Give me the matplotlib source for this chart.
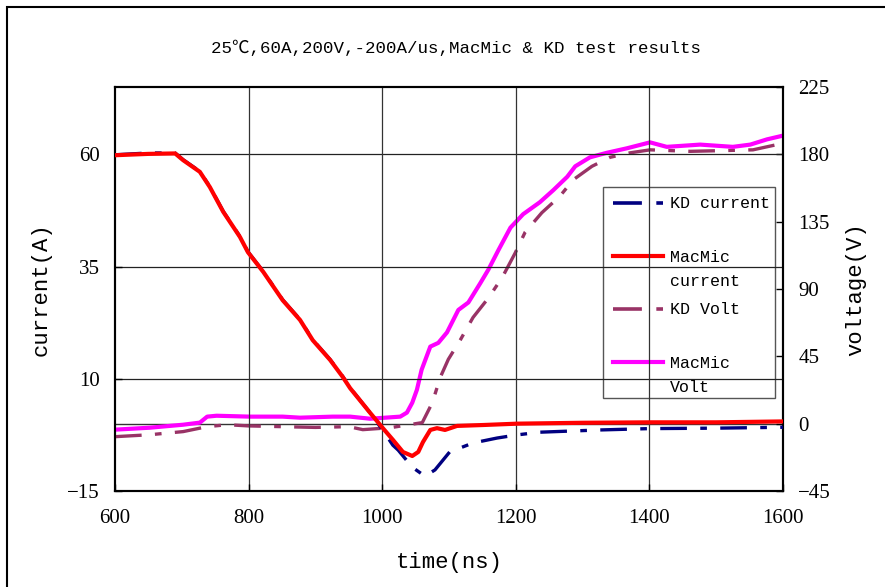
import numpy as np
import matplotlib.pyplot as plt
from matplotlib.lines import Line2D
from matplotlib.patches import Rectangle

# data
t_mm_i = [600, 650, 690, 702, 727, 742, 762, 787, 799, 822, 851, 877, 896, 922, 941, 952,
          982, 1001, 1016, 1031, 1045, 1054, 1061, 1072, 1082, 1094, 1112, 1151, 1202,
          1300, 1400, 1500, 1600]
i_mm = [59.8, 60.1, 60.2, 58.7, 56.1, 52.7, 47.2, 41.6, 38.2, 33.8, 27.5, 23.1, 18.6, 14.2,
        10.4, 7.9, 2.4, -1.0, -3.6, -6.3, -7.2, -6.3, -4.1, -1.4, -1.0, -1.4, -0.5, -0.3,
        0.0, 0.2, 0.3, 0.3, 0.5]

t_kd_i = [600, 650, 690, 702, 727, 742, 762, 787, 799, 822, 851, 877, 896, 922, 941, 952,
          982, 1001, 1016, 1024, 1045, 1064, 1079, 1101, 1136, 1172, 1202, 1236, 1326,
          1400, 1500, 1600]
i_kd = [59.9, 60.3, 60.3, 58.8, 56.2, 52.8, 47.3, 41.7, 38.3, 33.9, 27.6, 23.2, 18.7, 14.3,
        10.5, 8.0, 2.4, -1.5, -4.8, -5.9, -9.7, -11.7, -10.3, -6.3, -4.3, -3.2, -2.5, -1.9,
        -1.4, -1.1, -1.0, -0.8]

t_mm_v = [600, 652, 702, 727, 738, 752, 802, 851, 877, 926, 952, 982, 1027, 1037, 1045,
          1052, 1059, 1072, 1084, 1097, 1114, 1129, 1147, 1159, 1174, 1192, 1211, 1236,
          1256, 1277, 1289, 1311, 1336, 1366, 1401, 1426, 1476, 1525, 1551, 1576, 1600]
v_mm = [-4, -2.7, -0.7, 0.7, 4.7, 5.3, 4.7, 4.7, 4.0, 4.7, 4.7, 3.3, 4.7, 7.4, 14, 22.7,
        36, 51.5, 54, 61, 76, 81, 94, 103, 116, 131, 140, 148, 156, 165, 172, 178, 181,
        184, 188, 185, 186.5, 185, 186.5, 190, 192.5]

t_kd_v = [600, 652, 702, 738, 768, 800, 850, 900, 950, 971, 1012, 1060, 1075, 1087, 1099,
          1117, 1136, 1159, 1180, 1199, 1214, 1239, 1266, 1286, 1314, 1341, 1371, 1401,
          1461, 1510, 1555, 1591, 1600]
v_kd = [-8.7, -7.4, -5.3, -2, -0.7, -1.5, -2, -2.5, -2, -4, -2.7, 0.7, 14, 31, 43, 56, 71,
        84, 98, 114, 128, 141, 152, 163, 172, 178, 181, 183, 182, 182.5, 183, 186.5, 188]

x_ticks = [600, 800, 1000, 1200, 1400, 1600]
i_ticks = [-15, 10, 35, 60]
v_ticks = [-45, 0, 45, 90, 135, 180, 225]

labels = ['KD current', 'MacMic\ncurrent', 'KD Volt', 'MacMic\nVolt']
colors = ['#000080', '#ff0000', '#993366', '#ff00ff']

mono = ['Liberation Mono', 'Noto Sans CJK SC']
serif = 'Liberation Serif'
dash = (0, (8, 4, 2, 4))

fig = plt.figure(figsize=(8.85, 5.87), dpi=100)
ax = fig.add_axes([115 / 885, 96 / 587, 668 / 885, 404 / 587])
ax2 = ax.twinx()

ax.set_xlim(600, 1600)
ax.set_ylim(-15, 75)
ax2.set_ylim(-45, 225)

# grid
for y in [10, 35, 60]:
    ax.axhline(y, color='#222222', lw=0.9, zorder=1)
for x in [800, 1000, 1200, 1400]:
    ax.axvline(x, color='#333333', lw=0.9, zorder=1)
ax2.axhline(0, color='#333333', lw=1.0, zorder=1)

ax.plot(t_kd_i, i_kd, color=colors[0], lw=2.4, linestyle=dash, zorder=3)
ax.plot(t_mm_i, i_mm, color=colors[1], lw=3, zorder=4)
ax2.plot(t_kd_v, v_kd, color=colors[2], lw=2.4, linestyle=dash, zorder=3)
ax2.plot(t_mm_v, v_mm, color=colors[3], lw=3, zorder=4)
ax.set_zorder(ax2.get_zorder() + 1)
ax.patch.set_visible(False)

ax.set_xticks(x_ticks)
ax.set_yticks(i_ticks)
ax2.set_yticks(v_ticks)
for a in (ax, ax2):
    a.tick_params(direction='in', length=5, width=1, pad=11, labelsize=15)
    for lab in a.get_xticklabels() + a.get_yticklabels():
        lab.set_fontfamily(serif)
    for s in a.spines.values():
        s.set_linewidth(1.5)
ax.tick_params(axis='x', pad=13)

ax.set_xlabel('time(ns)', family=mono, fontsize=16, labelpad=17)
ax.set_ylabel('current(A)', family=mono, fontsize=16, labelpad=11)
ax2.set_ylabel('voltage(V)', family=mono, fontsize=16, labelpad=10)
fig.text(456 / 885, 1 - 48 / 587, '25℃,60A,200V,-200A/us,MacMic & KD test results',
         family=mono, fontsize=12.6, ha='center', va='center')

# legend box drawn by hand to match the layout
leg_ax = fig.add_axes(ax.get_position())
leg_ax.set_xlim(115, 783)
leg_ax.set_ylim(491, 87)
leg_ax.axis('off')
leg_ax.add_patch(Rectangle((603, 187), 172, 211, facecolor='white', edgecolor='#555555', lw=1))
rows = [203, 256, 309, 362]
styles = [dash, '-', dash, '-']
for lab, c, ls, y in zip(labels, colors, styles, rows):
    leg_ax.add_line(Line2D([613, 663], [y, y], color=c, lw=3 if ls == '-' else 2.6,
                           linestyle=ls))
    for k, part in enumerate(lab.split('\n')):
        leg_ax.text(670, y + 1 + 24 * k, part, family=mono, fontsize=12, va='center')

fig.add_artist(Rectangle((7 / 885, -0.1), 2, 1.1 - 7 / 587, transform=fig.transFigure,
                         fill=False, edgecolor='black', lw=1.5))

fig.savefig('out.png', dpi=100)
